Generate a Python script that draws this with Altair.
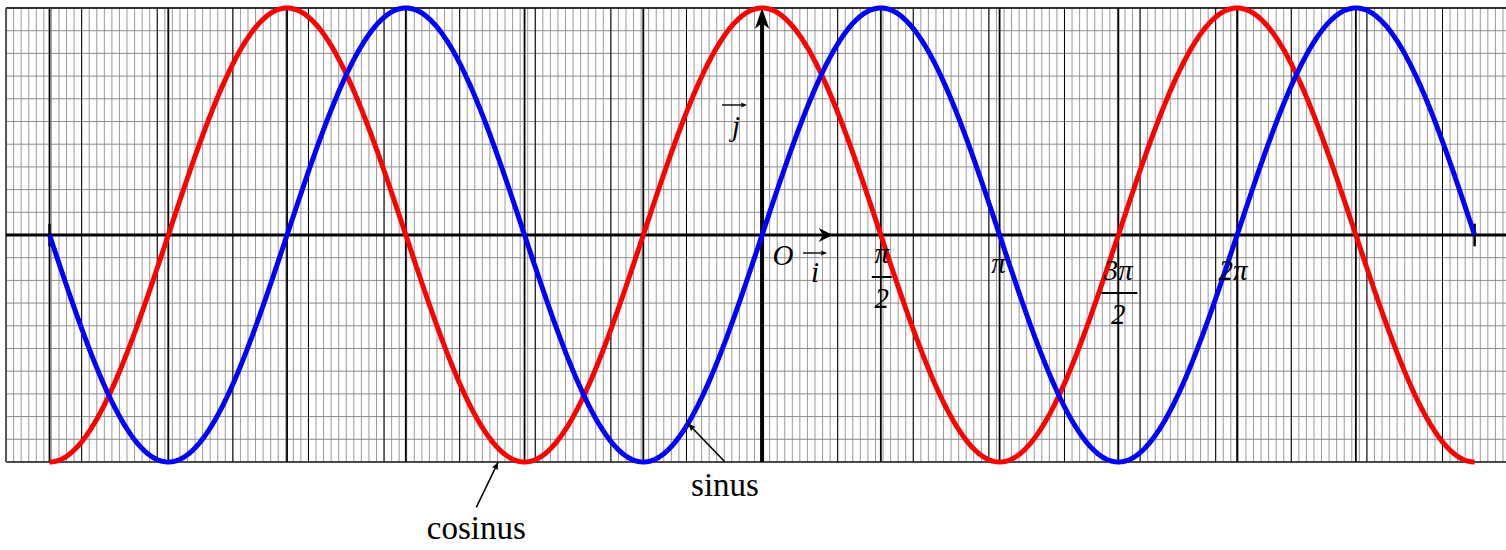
import math
import numpy as np
import pandas as pd
import altair as alt

PI = math.pi

# Visible window in data units: x in radians, y in function value
W, H = 1506, 550
X_VIEW = [-10.08, 9.84]
Y_VIEW = [-1.3877, 1.0352]
PX_X = W / (X_VIEW[1] - X_VIEW[0])
PX_Y = H / (Y_VIEW[1] - Y_VIEW[0])

# Graph-paper grid
grid_x_fine = [i / 10 for i in range(-100, 101)]
grid_y_fine = [i / 10 for i in range(-10, 11)]
grid_x_units = list(range(-10, 11))
half_pi_steps = list(range(-6, 6))          # k * pi/2, from -3pi to 5pi/2
grid_x_extent = [-10, 10]
grid_y_extent = [-1, 1]

# Plotted functions on [-3pi, 3pi]
t = np.linspace(-3 * PI, 3 * PI, 1201)
curves = pd.DataFrame({"x": t, "sin": np.sin(t), "cos": np.cos(t)})

# Annotation anchors (start of the pointer, point on the curve)
sinus_start = (-0.49, -1.0)
sinus_tip = (-0.98, math.sin(-0.98))
cosinus_start = (-3.78, -1.2)
cosinus_tip = (-3.49, -1.0)

FONT = "Liberation Serif"
xs = alt.Scale(domain=X_VIEW, nice=False, zero=False)
ys = alt.Scale(domain=Y_VIEW, nice=False, zero=False)

HEAD_BIG_UP = "M0,0L0.45,1.3L0,0.95L-0.45,1.3Z"
HEAD_RIGHT = "M0,0L-1,-0.5L-0.7,0L-1,0.5Z"
HEAD_SMALL_UP = "M0,0L0.4,1L0,0.8L-0.4,1Z"


def X(f="x"):
    return alt.X(f"{f}:Q", scale=xs, axis=None)


def Y(f="y"):
    return alt.Y(f"{f}:Q", scale=ys, axis=None)


def vlines(xvals, color, width, y0, y1):
    df = pd.DataFrame({"x": xvals, "y": y0, "y2": y1})
    return alt.Chart(df).mark_rule(color=color, strokeWidth=width, clip=True).encode(
        x=X(), y=Y(), y2=alt.Y2("y2:Q"))


def hlines(yvals, color, width, x0, x1):
    df = pd.DataFrame({"y": yvals, "x": x0, "x2": x1})
    return alt.Chart(df).mark_rule(color=color, strokeWidth=width, clip=True).encode(
        y=Y(), x=X(), x2=alt.X2("x2:Q"))


def segment(x0, y0, x1, y1, width, color="black"):
    df = pd.DataFrame({"x": [x0], "y": [y0], "x2": [x1], "y2": [y1]})
    return alt.Chart(df).mark_rule(color=color, strokeWidth=width).encode(
        x=X(), y=Y(), x2=alt.X2("x2:Q"), y2=alt.Y2("y2:Q"))


def offset_bar(x, y, xo0, xo1, yo, width):
    df = pd.DataFrame({"x": [x], "x2": [x], "y": [y]})
    return alt.Chart(df).mark_rule(color="black", strokeWidth=width, xOffset=xo0,
                                   x2Offset=xo1, yOffset=yo).encode(
        x=X(), x2=alt.X2("x2:Q"), y=Y())


def head(x, y, shape, size, angle=0, xo=0, yo=0):
    df = pd.DataFrame({"x": [x], "y": [y]})
    return alt.Chart(df).mark_point(shape=shape, size=size, angle=angle, filled=True,
                                    color="black", opacity=1, strokeWidth=0,
                                    xOffset=xo, yOffset=yo).encode(x=X(), y=Y())


def label(text, x, y, size, italic=True, dx=0, dy=0):
    df = pd.DataFrame({"x": [x], "y": [y], "t": [text]})
    return alt.Chart(df).mark_text(font=FONT, fontSize=size,
                                   fontStyle="italic" if italic else "normal",
                                   dx=dx, dy=dy, align="center", baseline="alphabetic",
                                   color="black").encode(x=X(), y=Y(), text="t:N")


def pointer_angle(start, tip):
    dxp = (tip[0] - start[0]) * PX_X
    dyp = -(tip[1] - start[1]) * PX_Y
    return math.degrees(math.atan2(dxp, -dyp)) % 360


layers = [
    # paper grid
    vlines(grid_x_fine, "#9a9a9a", 1, *grid_y_extent),
    hlines(grid_y_fine, "#8c8c8c", 1, grid_x_extent[0], grid_x_extent[1]),
    vlines(grid_x_units, "#000000", 1, *grid_y_extent),
    vlines([k * PI / 2 for k in half_pi_steps], "#000000", 1.8, *grid_y_extent),
    hlines([grid_y_extent[1]], "#000000", 1.6, grid_x_extent[0], grid_x_extent[1]),
    hlines([grid_y_extent[0]], "#222222", 1.6, grid_x_extent[0], grid_x_extent[1]),
    vlines([grid_x_extent[0]], "#555555", 2, *grid_y_extent),
    # axes
    hlines([0], "#000000", 3, grid_x_extent[0], grid_x_extent[1]),
    vlines([0], "#000000", 4, grid_y_extent[0], 0.93),
    vlines([-3 * PI, 3 * PI], "#000000", 2.5, -0.05, 0.05),
    head(0, 1, HEAD_BIG_UP, 1024),
    head(1, 0, HEAD_RIGHT, 784, xo=-5),
    # curves
    alt.Chart(curves).mark_line(color="#ff0000", strokeWidth=5).encode(x=X(), y=Y("cos")),
    alt.Chart(curves).mark_line(color="#0000ff", strokeWidth=5).encode(x=X(), y=Y("sin")),
    # origin and unit vectors
    label("O", 0, 0, 29, dx=21, dy=30),
    label("i", 0, 0, 29, dx=53, dy=47),
    offset_bar(0, 0, 41, 63, 18, 1.4),
    head(0, 0, HEAD_SMALL_UP, 160, angle=90, xo=65, yo=18),
    label("j", 0, 0, 29, dx=-26, dy=-99),
    offset_bar(0, 0, -40, -17, -130, 1.4),
    head(0, 0, HEAD_SMALL_UP, 160, angle=90, xo=-15, yo=-130),
    # tick labels
    label("π", PI / 2, 0, 29, dx=1, dy=28),
    offset_bar(PI / 2, 0, -9, 11, 42, 2),
    label("2", PI / 2, 0, 29, dx=1, dy=73),
    label("π", PI, 0, 29, dx=-1, dy=38),
    label("3π", 3 * PI / 2, 0, 29, dx=0, dy=45),
    offset_bar(3 * PI / 2, 0, -17, 19, 58, 2),
    label("2", 3 * PI / 2, 0, 29, dx=0, dy=89),
    label("2π", 2 * PI, 0, 29, dx=-4, dy=45),
    # curve names with pointers
    segment(*sinus_start, *sinus_tip, 1.6),
    head(*sinus_tip, HEAD_SMALL_UP, 256, angle=pointer_angle(sinus_start, sinus_tip)),
    label("sinus", *sinus_start, 33, italic=False, dy=34),
    segment(*cosinus_start, *cosinus_tip, 1.6),
    head(*cosinus_tip, HEAD_SMALL_UP, 256, angle=pointer_angle(cosinus_start, cosinus_tip)),
    label("cosinus", *cosinus_start, 33, italic=False, dy=32),
]

chart = alt.layer(*layers).properties(
    width=W, height=H, padding=0,
    autosize=alt.AutoSizeParams(type="none"),
    background="white",
).configure_view(stroke=None)

chart.save("out.html", embed_options={"renderer": "svg", "actions": False})
